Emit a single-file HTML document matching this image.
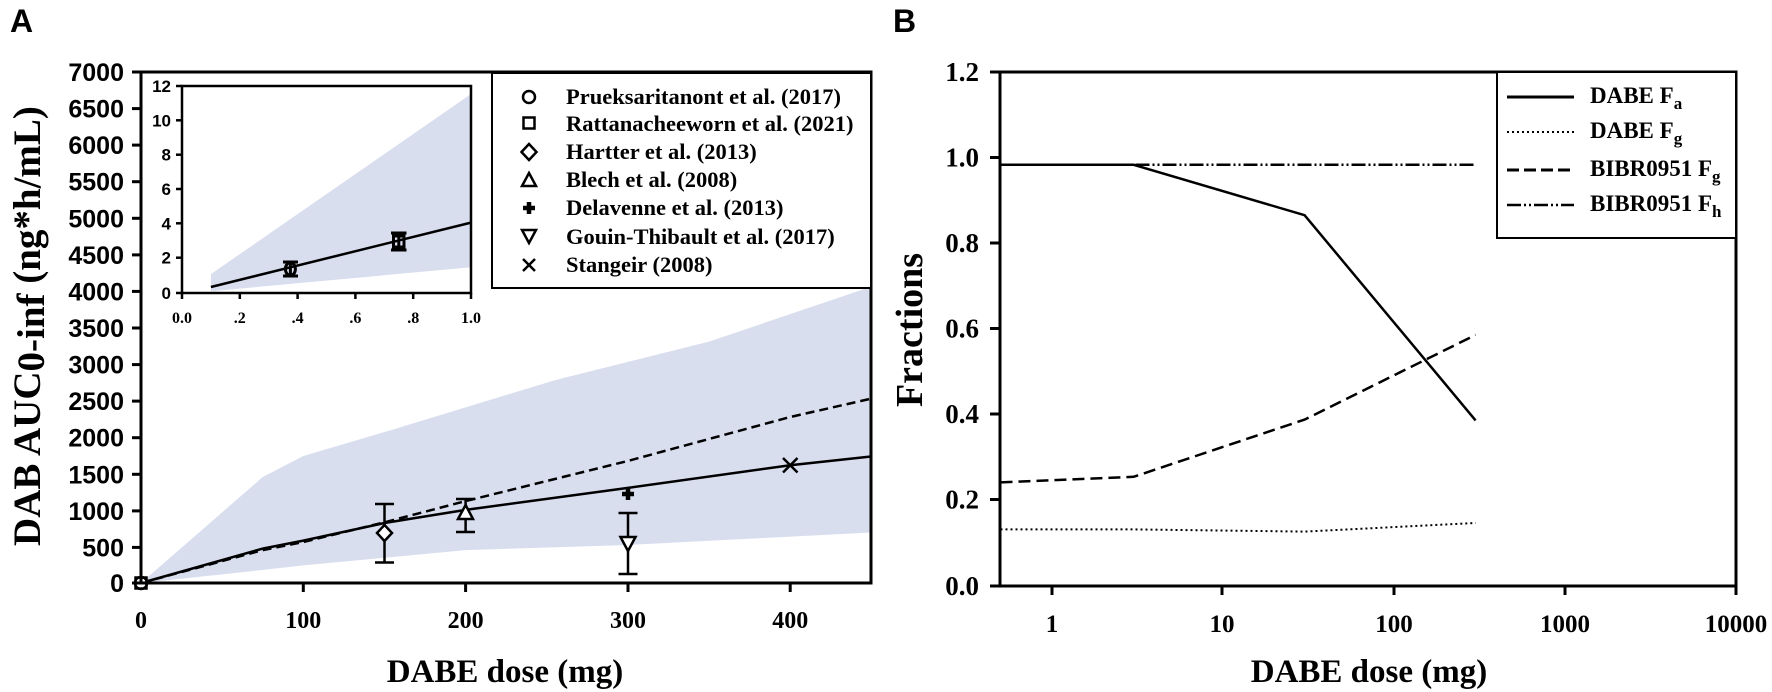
<!DOCTYPE html>
<html><head><meta charset="utf-8"><style>
html,body{margin:0;padding:0;background:#fff;}
svg{display:block;}
.s{font-family:"Liberation Sans",Arial,sans-serif;font-weight:bold;}
.r{font-family:"Liberation Serif","Times New Roman",serif;font-weight:bold;}
</style></head><body>
<svg width="1772" height="692" viewBox="0 0 1772 692" xmlns="http://www.w3.org/2000/svg">
<!-- Panel A -->
<text x="10" y="32" class="s" font-size="32">A</text>
<defs><clipPath id="ca"><rect x="141" y="72" width="730" height="511"/></clipPath></defs>
<polygon clip-path="url(#ca)" fill="#d9deef" points="141,583 262.7,477 303.3,456 391,430.1 556.5,379.7 709,341.6 871,286.8 871,532.5 628,545 465.6,550.1 303.3,565.4 262.7,570"/>
<polyline fill="none" stroke="#000" stroke-width="2.5" points="141,583 262.7,548.6 303.3,540.6 384.5,523 465.6,509.9 628,487.9 790.2,465.2 871,456.5"/>
<polyline fill="none" stroke="#000" stroke-width="2.5" stroke-dasharray="9,5" points="141,583 262.7,550.1 303.3,542 384.5,522.3 465.6,501.1 628,460.9 790.2,417 871,398.7"/>
<g stroke="#000" stroke-width="2.5" fill="none">
<line x1="384.5" y1="504" x2="384.5" y2="562.5"/><line x1="375" y1="504" x2="394" y2="504"/><line x1="375" y1="562.5" x2="394" y2="562.5"/>
<line x1="465.6" y1="499" x2="465.6" y2="532"/><line x1="456" y1="499" x2="475" y2="499"/><line x1="456" y1="532" x2="475" y2="532"/>
<line x1="628" y1="513" x2="628" y2="574"/><line x1="618.5" y1="513" x2="637.5" y2="513"/><line x1="618.5" y1="574" x2="637.5" y2="574"/>
<polygon points="384.5,525 392,533 384.5,541 377,533" fill="#fff"/>
<polygon points="465.6,505 473,519 458,519" fill="#fff"/>
<polygon points="628,551 620.5,537 635.5,537" fill="#fff"/>
<line x1="783" y1="458" x2="797.5" y2="472.5"/><line x1="797.5" y1="458" x2="783" y2="472.5"/>
<circle cx="141" cy="583" r="6" fill="#fff"/>
<rect x="135.5" y="577.5" width="11" height="11"/>
</g>
<path d="M622,494 h12 M628,488 v12" stroke="#000" stroke-width="4.5"/>
<path d="M141,72 V583 H871 V72 Z" fill="none" stroke="#000" stroke-width="3"/>
<g stroke="#000" stroke-width="3">
<line x1="132" y1="72" x2="141" y2="72"/><line x1="132" y1="108.6" x2="141" y2="108.6"/><line x1="132" y1="145.1" x2="141" y2="145.1"/><line x1="132" y1="181.7" x2="141" y2="181.7"/><line x1="132" y1="218.3" x2="141" y2="218.3"/><line x1="132" y1="254.9" x2="141" y2="254.9"/><line x1="132" y1="291.4" x2="141" y2="291.4"/><line x1="132" y1="328" x2="141" y2="328"/><line x1="132" y1="364.6" x2="141" y2="364.6"/><line x1="132" y1="401.1" x2="141" y2="401.1"/><line x1="132" y1="437.7" x2="141" y2="437.7"/><line x1="132" y1="474.3" x2="141" y2="474.3"/><line x1="132" y1="510.9" x2="141" y2="510.9"/><line x1="132" y1="547.4" x2="141" y2="547.4"/><line x1="132" y1="583" x2="141" y2="583"/>
<line x1="303.3" y1="583" x2="303.3" y2="592"/><line x1="465.6" y1="583" x2="465.6" y2="592"/><line x1="628" y1="583" x2="628" y2="592"/><line x1="790.2" y1="583" x2="790.2" y2="592"/>
</g>
<g class="s" font-size="25" text-anchor="end">
<text x="124" y="81">7000</text><text x="124" y="117.6">6500</text><text x="124" y="154.1">6000</text><text x="124" y="190.7">5500</text><text x="124" y="227.3">5000</text><text x="124" y="263.9">4500</text><text x="124" y="300.4">4000</text><text x="124" y="337">3500</text><text x="124" y="373.6">3000</text><text x="124" y="410.1">2500</text><text x="124" y="446.7">2000</text><text x="124" y="483.3">1500</text><text x="124" y="519.9">1000</text><text x="124" y="556.4">500</text><text x="124" y="592">0</text>
</g>
<g class="r" font-size="24" text-anchor="middle">
<text x="141" y="628">0</text><text x="303.3" y="628">100</text><text x="465.6" y="628">200</text><text x="628" y="628">300</text><text x="790.2" y="628">400</text>
</g>
<text x="505" y="682" class="r" font-size="33" text-anchor="middle">DABE dose (mg)</text>
<text transform="translate(40,326) rotate(-90)" class="r" font-size="39" text-anchor="middle">DAB AUC<tspan dy="4">0-inf</tspan><tspan dy="-4"> (ng*h/mL)</tspan></text>
<!-- Inset -->
<rect x="182" y="86" width="289" height="207" fill="#fff"/>
<polygon fill="#d9deef" points="210.9,274.1 471,94 471,267.2 210.9,291.3"/>
<line x1="210.9" y1="287" x2="471" y2="222.6" stroke="#000" stroke-width="2.5"/>
<g stroke="#000" stroke-width="3" fill="none">
<line x1="290.4" y1="262" x2="290.4" y2="276"/><line x1="283" y1="262" x2="298" y2="262"/><line x1="283" y1="276" x2="298" y2="276"/>
<ellipse cx="290.4" cy="269" rx="5" ry="6.5" fill="none"/>
<line x1="398.8" y1="233" x2="398.8" y2="250"/><line x1="391" y1="233" x2="406.5" y2="233"/><line x1="391" y1="250" x2="406.5" y2="250"/>
<rect x="393.5" y="236" width="10.5" height="11"/>
</g>
<path d="M182,86 V293 H471 V86 Z" fill="none" stroke="#000" stroke-width="2.5"/>
<g stroke="#000" stroke-width="2.5">
<line x1="176" y1="86" x2="182" y2="86"/><line x1="176" y1="120.3" x2="182" y2="120.3"/><line x1="176" y1="154.7" x2="182" y2="154.7"/><line x1="176" y1="189" x2="182" y2="189"/><line x1="176" y1="223.3" x2="182" y2="223.3"/><line x1="176" y1="257.7" x2="182" y2="257.7"/><line x1="176" y1="293" x2="182" y2="293"/>
<line x1="182" y1="293" x2="182" y2="299"/><line x1="239.8" y1="293" x2="239.8" y2="299"/><line x1="297.6" y1="293" x2="297.6" y2="299"/><line x1="355.4" y1="293" x2="355.4" y2="299"/><line x1="413.2" y1="293" x2="413.2" y2="299"/><line x1="471" y1="293" x2="471" y2="299"/>
</g>
<g class="s" font-size="17" text-anchor="end">
<text x="171" y="92">12</text><text x="171" y="126.3">10</text><text x="171" y="160.7">8</text><text x="171" y="195">6</text><text x="171" y="229.3">4</text><text x="171" y="263.7">2</text><text x="171" y="299">0</text>
</g>
<g class="r" font-size="16" text-anchor="middle">
<text x="182" y="323">0.0</text><text x="239.8" y="323">.2</text><text x="297.6" y="323">.4</text><text x="355.4" y="323">.6</text><text x="413.2" y="323">.8</text><text x="471" y="323">1.0</text>
</g>
<!-- Legend A -->
<rect x="492" y="73" width="379" height="215" fill="#fff" stroke="#000" stroke-width="2"/>
<g stroke="#000" stroke-width="2.5" fill="none">
<circle cx="529" cy="97" r="6"/>
<rect x="523.5" y="117.5" width="11" height="11"/>
<polygon points="529,144 536.5,152 529,160 521.5,152"/>
<polygon points="529,173 536,186 522,186"/>
<polygon points="529,243 522,230 536,230"/>
<line x1="523" y1="259" x2="535" y2="271"/><line x1="535" y1="259" x2="523" y2="271"/>
</g>
<path d="M523,208 h12 M529,202 v12" stroke="#000" stroke-width="4.5"/>
<g class="r" font-size="22.5">
<text x="566" y="104">Prueksaritanont et al. (2017)</text>
<text x="566" y="131">Rattanacheeworn et al. (2021)</text>
<text x="566" y="159">Hartter et al. (2013)</text>
<text x="566" y="187">Blech et al. (2008)</text>
<text x="566" y="215">Delavenne et al. (2013)</text>
<text x="566" y="244">Gouin-Thibault et al. (2017)</text>
<text x="566" y="272">Stangeir (2008)</text>
</g>

<!-- Panel B -->
<text x="893" y="32" class="s" font-size="32">B</text>
<g fill="none" stroke="#000">
<polyline stroke-width="2.5" stroke-dasharray="14,3,2,3,2,3" points="1000.5,164.8 1475.6,164.8"/>
<polyline stroke-width="2.5" points="1000.5,164.8 1133.6,164.8 1304.6,215.2 1475.6,420.4"/>
<polyline stroke-width="2" stroke-dasharray="2,3" points="1000.5,529.4 1133.6,529.4 1304.6,531.6 1475.6,523"/>
<polyline stroke-width="2.5" stroke-dasharray="12,6" points="1000.5,482.4 1133.6,476.8 1304.6,419.6 1475.6,334.9"/>
</g>
<path d="M1000,72 V586 H1736 V72 Z" fill="none" stroke="#000" stroke-width="3"/>
<g stroke="#000" stroke-width="3">
<line x1="990" y1="72" x2="1000" y2="72"/><line x1="990" y1="157.5" x2="1000" y2="157.5"/><line x1="990" y1="243" x2="1000" y2="243"/><line x1="990" y1="328.5" x2="1000" y2="328.5"/><line x1="990" y1="414" x2="1000" y2="414"/><line x1="990" y1="499.5" x2="1000" y2="499.5"/><line x1="990" y1="586" x2="1000" y2="586"/>
<line x1="1052" y1="586" x2="1052" y2="595"/><line x1="1222" y1="586" x2="1222" y2="595"/><line x1="1394" y1="586" x2="1394" y2="595"/><line x1="1565" y1="586" x2="1565" y2="595"/><line x1="1736" y1="586" x2="1736" y2="595"/>
</g>
<g class="r" font-size="27" text-anchor="end">
<text x="979" y="81">1.2</text><text x="979" y="166.5">1.0</text><text x="979" y="252">0.8</text><text x="979" y="337.5">0.6</text><text x="979" y="423">0.4</text><text x="979" y="508.5">0.2</text><text x="979" y="595">0.0</text>
</g>
<g class="r" font-size="25" text-anchor="middle">
<text x="1052" y="632">1</text><text x="1222" y="632">10</text><text x="1394" y="632">100</text><text x="1565" y="632">1000</text><text x="1736" y="632">10000</text>
</g>
<text x="1369" y="682" class="r" font-size="33" text-anchor="middle">DABE dose (mg)</text>
<text transform="translate(922,330) rotate(-90)" class="r" font-size="38" text-anchor="middle">Fractions</text>
<!-- Legend B -->
<rect x="1497" y="72" width="239" height="166" fill="#fff" stroke="#000" stroke-width="2"/>
<g stroke="#000" fill="none">
<line x1="1507" y1="97" x2="1574" y2="97" stroke-width="3"/>
<line x1="1507" y1="132" x2="1574" y2="132" stroke-width="2" stroke-dasharray="2,3"/>
<line x1="1507" y1="170" x2="1574" y2="170" stroke-width="3" stroke-dasharray="12,5"/>
<line x1="1507" y1="205" x2="1574" y2="205" stroke-width="2.5" stroke-dasharray="14,3,2,3,2,3"/>
</g>
<g class="r" font-size="23">
<text x="1590" y="103">DABE F<tspan font-size="17" dy="6">a</tspan></text>
<text x="1590" y="138">DABE F<tspan font-size="17" dy="6">g</tspan></text>
<text x="1590" y="176">BIBR0951 F<tspan font-size="17" dy="6">g</tspan></text>
<text x="1590" y="211">BIBR0951 F<tspan font-size="17" dy="6">h</tspan></text>
</g>
</svg>
</body></html>
